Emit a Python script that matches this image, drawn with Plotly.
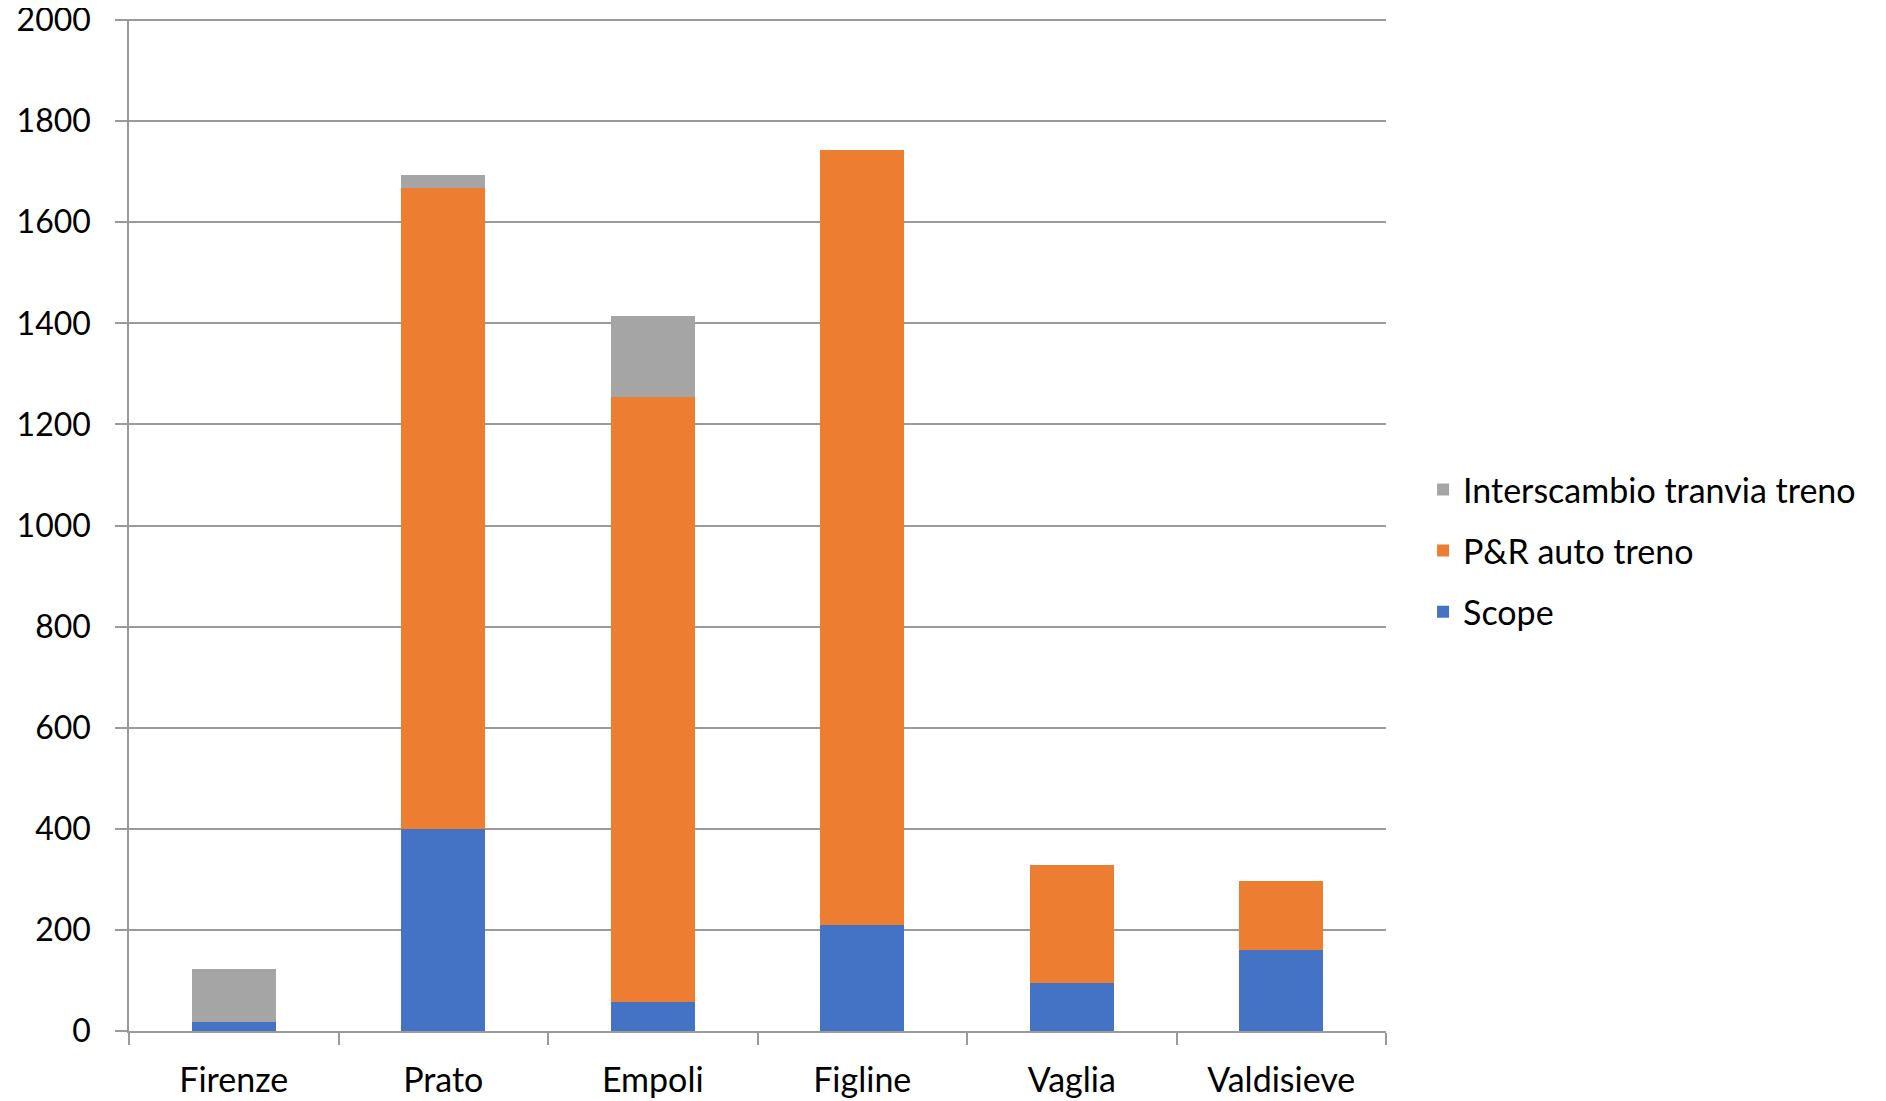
import plotly.graph_objects as go

categories = ["Firenze", "Prato", "Empoli", "Figline", "Vaglia", "Valdisieve"]
scope = [17, 400, 57, 209, 94, 160]
pr_auto_treno = [0, 1268, 1197, 1533, 234, 137]
interscambio = [105, 25, 160, 0, 0, 0]

series = [
    ("Scope", scope, "#4472C4", 3),
    ("P&R auto treno", pr_auto_treno, "#ED7D31", 2),
    ("Interscambio tranvia treno", interscambio, "#A5A5A5", 1),
]

FONT = "Lato, Calibri, Carlito, sans-serif"
GRID = "#9a9a9a"

fig = go.Figure()
for name, vals, color, rank in series:
    fig.add_trace(go.Bar(
        x=categories, y=vals, name=name,
        marker=dict(color=color, line=dict(width=0)),
        legendgroup=name, legendrank=rank,
    ))

fig.update_layout(
    width=1886, height=1101,
    barmode="stack",
    bargap=0.6,
    paper_bgcolor="white", plot_bgcolor="white",
    margin=dict(l=121, r=508, t=11, b=78, autoexpand=False),
    font=dict(family=FONT, size=34, color="#000000"),
    legend=dict(
        traceorder="grouped",
        xref="container", yref="container",
        x=0.7503, y=0.507, xanchor="left", yanchor="middle",
        font=dict(family=FONT, size=34, color="#000000"),
        tracegroupgap=14,
        bgcolor="rgba(0,0,0,0)",
    ),
    xaxis=dict(
        showgrid=False,
        showline=True, linecolor=GRID, linewidth=1.5,
        ticks="outside", tickson="boundaries", ticklen=12, tickcolor=GRID, tickwidth=1.5,
        ticklabelstandoff=18,
        tickfont=dict(family=FONT, size=34, color="#000000"),
    ),
    yaxis=dict(
        range=[0, 2002], dtick=200, tick0=0,
        showgrid=True, gridcolor=GRID, gridwidth=1.5,
        showline=True, linecolor=GRID, linewidth=1.5,
        ticks="outside", ticklen=12, tickcolor=GRID, tickwidth=1.5,
        ticklabelstandoff=18, ticklabeloverflow="allow",
        zeroline=False,
        tickfont=dict(family=FONT, size=32, color="#000000"),
    ),
)

fig.write_html("out.html")
